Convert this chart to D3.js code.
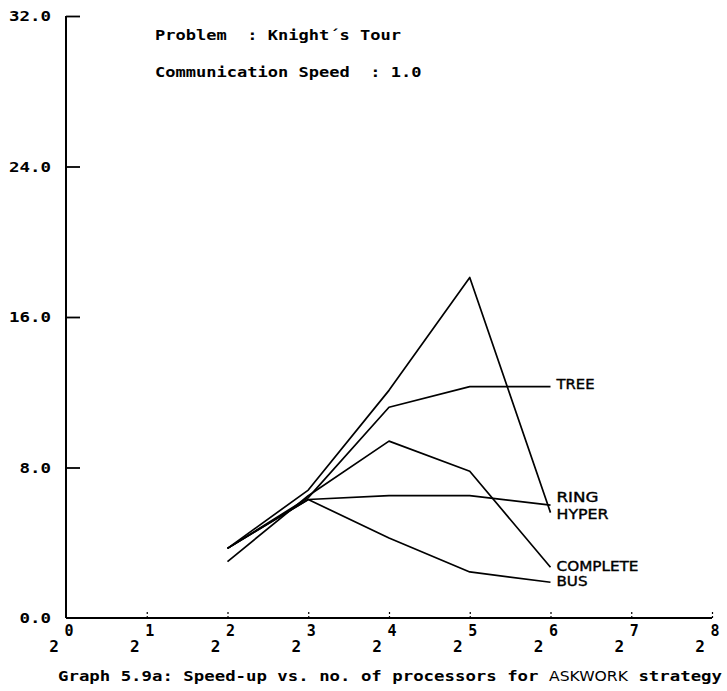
<!DOCTYPE html>
<html>
<head>
<meta charset="utf-8">
<script src="https://cdn.jsdelivr.net/npm/d3@7"></script>
<style>
  body { margin: 0; background: #fff; }
  svg { display: block; }
</style>
</head>
<body>
<svg id="chart" width="727" height="691"></svg>
<script>
// Speed-up against number of processors (2^n), Knight's Tour, ASKWORK strategy
const xExponents   = [0, 1, 2, 3, 4, 5, 6, 7, 8];
const runExponents = [2, 3, 4, 5, 6];
const yTickValues  = [0, 8, 16, 24, 32];
const yTickLabels  = ["0.0", "8.0", "16.0", "24.0", "32.0"];

const seriesNames = ["HYPER", "TREE", "RING", "COMPLETE", "BUS"];
const hyperSpeedup    = [3.7, 6.8, 12.1, 18.1, 5.6];
const treeSpeedup     = [3.7, 6.4, 11.2, 12.3, 12.3];
const ringSpeedup     = [3.7, 6.3, 6.5, 6.5, 6.0];
const completeSpeedup = [3.0, 6.5, 9.4, 7.8, 2.7];
const busSpeedup      = [3.7, 6.3, 4.25, 2.45, 1.9];

const titleLines = ["Problem  : Knight\u00b4s Tour", "Communication Speed  : 1.0"];
const captionText = ["Graph 5.9a: Speed-up vs. no. of processors for ", "ASKWORK", " strategy"];

const seriesValues = [hyperSpeedup, treeSpeedup, ringSpeedup, completeSpeedup, busSpeedup];

// label nudges and widths so the stacked end labels stay readable
const labelNudge = { HYPER: 1, TREE: -2, RING: -8, COMPLETE: -1, BUS: -1 };
const labelWidth = { HYPER: 52, TREE: 38, RING: 42, COMPLETE: 82, BUS: 31 };

const svg = d3.select("#chart");
const monoFont = "'DejaVu Sans Mono', monospace";
const plotterFont = "'Liberation Sans Narrow', 'DejaVu Sans Condensed', sans-serif";
const CELL = 10.25; // plotter character cell width

const x = d3.scaleLog().base(2).domain([1, 256]).range([66, 712]);
const y = d3.scaleLinear().domain([0, 32]).range([618, 16]);

function plotterText(sel, size) {
  return sel
    .attr("font-family", monoFont)
    .attr("font-weight", "bold")
    .attr("font-size", size)
    .attr("fill", "#000")
    .attr("lengthAdjust", "spacingAndGlyphs");
}

// ---- y axis ----
const yAxis = d3.axisLeft(y)
  .tickValues(yTickValues)
  .tickFormat((d, i) => yTickLabels[i])
  .tickSizeInner(-14)
  .tickSizeOuter(0)
  .tickPadding(15);

const gy = svg.append("g").attr("transform", `translate(${x(1)},0)`).call(yAxis);
gy.select(".domain").remove();
gy.selectAll(".tick line").attr("stroke", "#000").attr("stroke-width", 1.8)
  .filter(d => d === 0).remove();
plotterText(gy.selectAll(".tick text"), 14.5)
  .attr("textLength", (d, i) => yTickLabels[i].length * 10.5);

svg.append("line")
  .attr("x1", x(1)).attr("x2", x(1))
  .attr("y1", y(0)).attr("y2", y(32))
  .attr("stroke", "#000").attr("stroke-width", 2);

// ---- x axis ----
const xAxis = d3.axisBottom(x)
  .tickValues(xExponents.map(e => Math.pow(2, e)))
  .tickFormat("")
  .tickSizeInner(-8)
  .tickSizeOuter(0);

const gx = svg.append("g").attr("transform", `translate(0,${y(0)})`).call(xAxis);
gx.select(".domain").remove();
gx.selectAll(".tick line")
  .attr("stroke", "#000").attr("stroke-width", 1.2)
  .attr("stroke-dasharray", "2,2")
  .filter(d => d === 1).remove();

svg.append("line")
  .attr("x1", x(1)).attr("x2", x(256))
  .attr("y1", y(0)).attr("y2", y(0))
  .attr("stroke", "#000").attr("stroke-width", 2.2);

const xLabels = svg.append("g")
  .selectAll("g")
  .data(xExponents)
  .join("g")
  .attr("transform", e => `translate(${x(Math.pow(2, e))},${y(0)})`);

plotterText(xLabels.append("text"), 16)
  .attr("x", -12).attr("y", 34)
  .attr("text-anchor", "middle")
  .text("2");
plotterText(xLabels.append("text"), 15)
  .attr("x", 3).attr("y", 18)
  .attr("text-anchor", "middle")
  .text(e => e);

// ---- series ----
const line = d3.line()
  .x((d, i) => x(Math.pow(2, runExponents[i])))
  .y(d => y(d));

svg.append("g")
  .selectAll("path")
  .data(seriesValues)
  .join("path")
  .attr("d", d => line(d))
  .attr("fill", "none")
  .attr("stroke", "#000")
  .attr("stroke-width", 1.7)
  .attr("stroke-linejoin", "round");

svg.append("g")
  .selectAll("text")
  .data(seriesNames)
  .join("text")
  .attr("x", x(Math.pow(2, runExponents[runExponents.length - 1])) + 6)
  .attr("y", (name, i) => y(seriesValues[i][seriesValues[i].length - 1]) + labelNudge[name])
  .attr("dy", "0.36em")
  .attr("font-family", plotterFont)
  .attr("font-size", 13.5)
  .attr("fill", "#000")
  .attr("stroke", "#000")
  .attr("stroke-width", 0.35)
  .attr("textLength", d => labelWidth[d])
  .attr("lengthAdjust", "spacingAndGlyphs")
  .text(d => d);

// ---- titles ----
plotterText(
  svg.append("g").selectAll("text").data(titleLines).join("text"), 14.5)
  .attr("x", 155)
  .attr("y", (d, i) => 40 + i * 37)
  .attr("textLength", d => d.length * CELL)
  .style("white-space", "pre")
  .text(d => d);

// ---- caption ----
const caption = plotterText(svg.append("text"), 14.5)
  .attr("x", 58).attr("y", 681)
  .attr("textLength", 664);
caption.selectAll("tspan")
  .data(captionText)
  .join("tspan")
  .attr("font-family", (d, i) => i === 1 ? plotterFont : monoFont)
  .attr("font-weight", (d, i) => i === 1 ? "normal" : "bold")
  .text(d => d);
</script>
</body>
</html>
